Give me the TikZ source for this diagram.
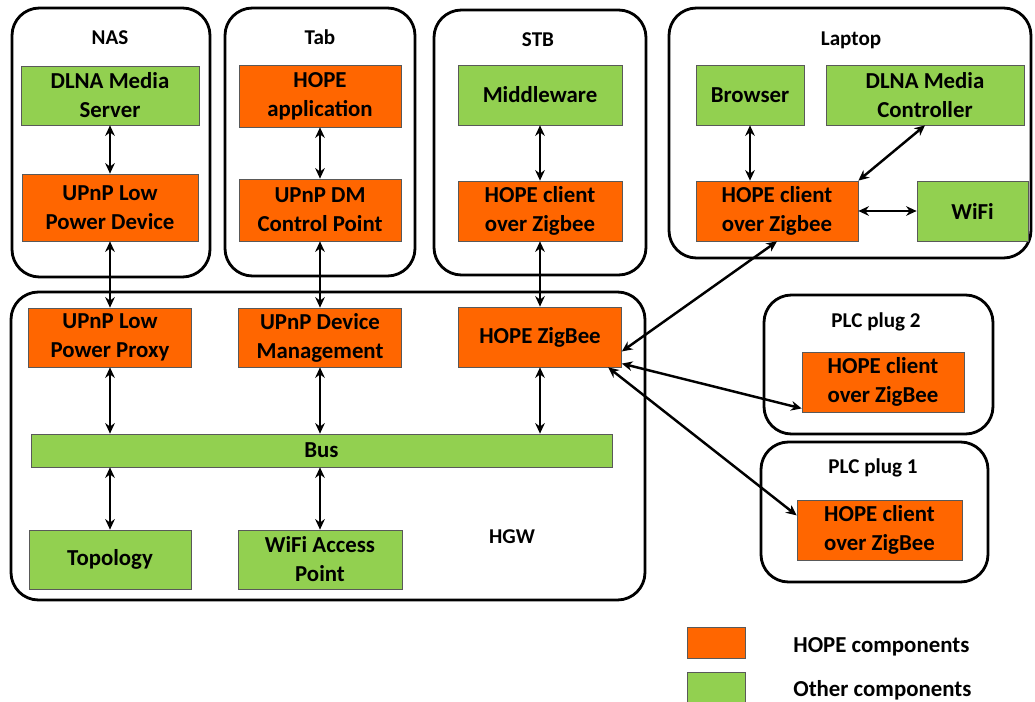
\documentclass[tikz,border=0pt]{standalone}
\usepackage{fontspec}
\setmainfont{Carlito}
\usetikzlibrary{arrows.meta, positioning, calc}

\tikzset{
  device/.style 2 args={draw, line width=1.6pt, rounded corners=0.55cm, inner sep=0pt,
    minimum width=#1*0.02cm, minimum height=#2*0.02cm},
  comp/.style 2 args={draw=black!65, thin, align=center, inner sep=0pt,
    font=\bfseries\fontsize{13}{16.5}\selectfont,
    minimum width=#1*0.02cm, minimum height=#2*0.02cm},
  hope/.style={fill=hopeorange},
  other/.style={fill=othergreen},
  devtitle/.style={inner sep=0pt, font=\bfseries\fontsize{12}{15}\selectfont},
  keytext/.style={inner sep=0pt, anchor=west, font=\bfseries\fontsize{13}{15}\selectfont},
  link/.style={<->, line width=1.4pt}
}

\begin{document}
\begin{tikzpicture}[x=0.02cm,y=-0.02cm,>={Stealth[length=6pt,width=5.5pt]}]

\useasboundingbox (0,0) rectangle (1035,702);

% Colors
\definecolor{hopeorange}{RGB}{255,102,0}
\definecolor{othergreen}{RGB}{146,208,80}

% Devices
\node[device={198}{269}] (nas) at (111,142.5) {};
\node[device={190}{268}] (tab) at (320,142) {};
\node[device={212}{265}] (stb) at (540,142.5) {};
\node[device={362}{250}] (laptop) at (850,133) {};
\node[device={634}{308}] (hgw) at (328,446) {};
\node[device={229}{139}] (plug2) at (878.5,364.5) {};
\node[device={227}{140}] (plug1) at (874.5,512) {};

% Titles
\node[devtitle] (nastitle) at (110,38) {NAS};
\node[devtitle] (tabtitle) at (320,37) {Tab};
\node[devtitle] (stbtitle) at (538,40) {STB};
\node[devtitle] (laptoptitle) at (851,40) {Laptop};
\node[devtitle] (hgwtitle) at (512,537) {HGW};
\node[devtitle] (plug2title) at (876,322) {PLC plug 2};
\node[devtitle] (plug1title) at (873,468) {PLC plug 1};

% NAS, Tab and STB components
\node[comp={178}{59}, other] (nasdms) at (110,95.5) {DLNA Media\\Server};
\node[comp={176}{67}, hope] (nasdev) at (110,207.5) {UPnP Low\\Power Device};
\node[comp={162}{62}, hope] (tabapp) at (320,96) {HOPE\\application};
\node[comp={162}{62}, hope] (tabcp) at (320,210) {UPnP DM\\Control Point};
\node[comp={164}{60}, other] (stbmw) at (540,95) {Middleware};
\node[comp={164}{60}, hope] (stbcl) at (540,211) {HOPE client\\over Zigbee};

% Laptop components
\node[comp={108}{60}, other] (lapbr) at (750,95) {Browser};
\node[comp={198}{60}, other] (lapmc) at (925,95) {DLNA Media\\Controller};
\node[comp={162}{60}, hope] (lapcl) at (777,211) {HOPE client\\over Zigbee};
\node[comp={111}{60}, other] (lapwifi) at (972.5,211) {WiFi};

% HGW components
\node[comp={163}{59}, hope] (proxy) at (110,337.5) {UPnP Low\\Power Proxy};
\node[comp={163}{59}, hope] (devmgmt) at (320,337.5) {UPnP Device\\Management};
\node[comp={163}{60}, hope] (zigbee) at (540,337) {HOPE ZigBee};
\node[comp={581}{33}, other] (bus) at (321.5,450.5) {Bus};
\node[comp={162}{59}, other] (topo) at (110,559.5) {Topology};
\node[comp={164}{59}, other] (wifiap) at (320,559.5) {WiFi Access\\Point};

% Plug components
\node[comp={162}{60}, hope] (plugcl2) at (883,382) {HOPE client\\over ZigBee};
\node[comp={165}{60}, hope] (plugcl1) at (879.5,530) {HOPE client\\over ZigBee};

% Legend
\node[comp={58}{31}, hope] (keyhope) at (716,642.5) {};
\node[comp={58}{31}, other] (keyother) at (716,688) {};
\node[keytext] (keyhopetxt) at (793,647) {HOPE components};
\node[keytext] (keyothertxt) at (793,690) {Other components};

% Connections: vertical
\foreach \a/\b in {nasdms/nasdev, nasdev/proxy, tabapp/tabcp, tabcp/devmgmt, stbmw/stbcl, stbcl/zigbee} {
    \draw[link] (\a) -- (\b);
}

% Connections: bus
\foreach \a in {proxy, devmgmt, zigbee} {
    \draw[link] (\a.south) -- (\a.south |- bus.north);
}
\foreach \a in {topo, wifiap} {
    \draw[link] (\a.north) -- (\a.north |- bus.south);
}

% Connections: laptop
\draw[link] (lapbr.south) -- (lapbr.south |- lapcl.north);
\draw[link] (lapmc.south) -- (lapcl.north east);
\draw[link] (lapcl) -- (lapwifi);

% Connections: ZigBee
\draw[link] (lapcl.south) -- (zigbee.-10);
\draw[link] (zigbee.-18) -- (plugcl2.198);
\draw[link] (zigbee.-24) -- (plugcl1.170);

\end{tikzpicture}
\end{document}
